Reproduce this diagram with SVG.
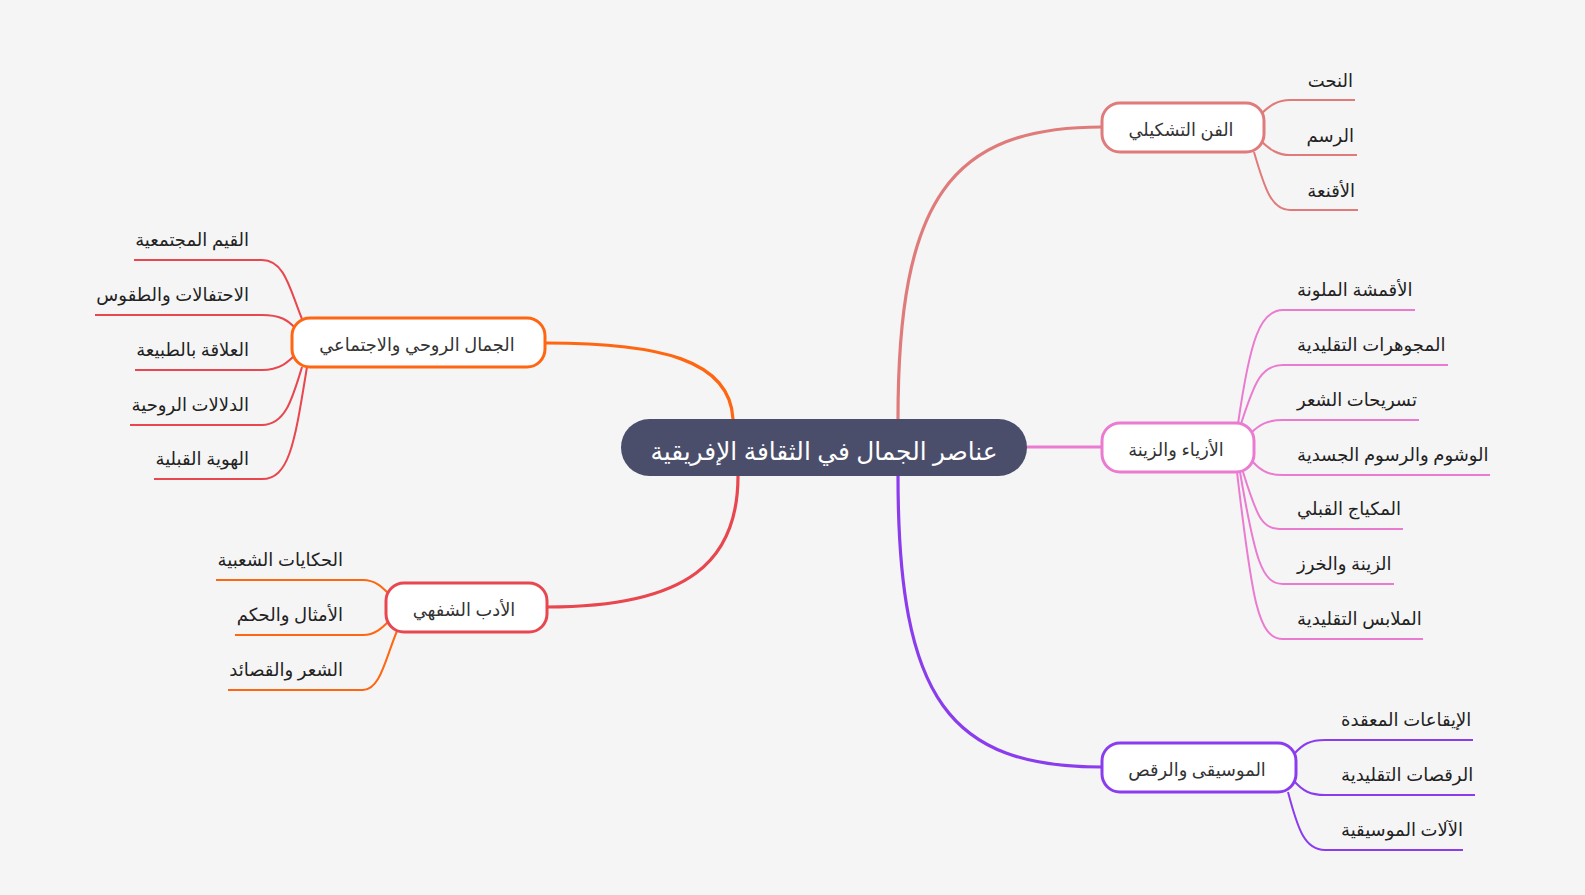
<svg xmlns="http://www.w3.org/2000/svg" width="1585" height="895" viewBox="0 0 1585 895">
<style>
text{font-family:"Noto Sans","DejaVu Sans",sans-serif;}
.leaf{font-size:18px;fill:#222;}
.nt{font-size:17.8px;fill:#333;text-anchor:middle;}
.ct{font-size:24.8px;fill:#fff;text-anchor:middle;}
.node{fill:#fff;stroke-width:3;}
.c{fill:none;stroke-width:3.2;}
.l{fill:none;stroke-width:2;}
.L{text-anchor:end;}
.R{text-anchor:start;}
</style>
<rect width="1585" height="895" fill="#f5f5f5"/>
<g id="connectors">
<path class="c" stroke="#e07b7b" d="M898,419 C898,200 950,127 1102,127"/>
<path class="c" stroke="#ea7bd0" d="M1027,447 L1102,447"/>
<path class="c" stroke="#8b3dee" d="M898,476 C898,700 950,767 1102,767"/>
<path class="c" stroke="#ff6611" d="M546,343 C660,343 730,360 733,419"/>
<path class="c" stroke="#e8474f" d="M738,476 C738,560 690,607 547,607"/>
<g stroke="#e07b7b">
<path class="l" d="M1260,115 C1270,105 1278,100 1290,100 L1355,100"/>
<path class="l" d="M1260,140 C1270,150 1278,155 1290,155 L1357,155"/>
<path class="l" d="M1254,152 C1265,190 1272,210 1290,210 L1358,210"/>
</g>
<g stroke="#ea7bd0">
<path class="l" d="M1238,424 C1250,340 1260,310 1283,310 L1415,310"/>
<path class="l" d="M1241,424 C1255,380 1262,365 1283,365 L1448,365"/>
<path class="l" d="M1251,433 C1260,424 1268,420 1283,420 L1419,420"/>
<path class="l" d="M1253,462 C1262,472 1270,475 1283,475 L1490,475"/>
<path class="l" d="M1243,472 C1258,520 1262,529 1283,529 L1403,529"/>
<path class="l" d="M1240,472 C1255,560 1262,584 1283,584 L1394,584"/>
<path class="l" d="M1237,472 C1252,600 1258,639 1283,639 L1423,639"/>
</g>
<g stroke="#8b3dee">
<path class="l" d="M1294,754 C1303,744 1310,740 1325,740 L1473,740"/>
<path class="l" d="M1294,781 C1303,791 1310,795 1325,795 L1475,795"/>
<path class="l" d="M1288,792 C1298,830 1305,850 1325,850 L1463,850"/>
</g>
<g stroke="#e8474f">
<path class="l" d="M134,260 L262,260 C285,260 290,290 302,319"/>
<path class="l" d="M95,315 L262,315 C280,315 288,320 295,328"/>
<path class="l" d="M135,370 L262,370 C280,370 288,362 295,355"/>
<path class="l" d="M130,425 L262,425 C285,425 292,400 302,367"/>
<path class="l" d="M154,479 L262,479 C290,479 295,440 307,367"/>
</g>
<g stroke="#ff6611">
<path class="l" d="M216,580 L363,580 C375,580 382,587 389,594"/>
<path class="l" d="M235,635 L363,635 C375,635 382,628 389,621"/>
<path class="l" d="M228,690 L363,690 C380,690 385,660 397,631"/>
</g>
</g>
<g id="center">
<rect x="621" y="419" width="406" height="57" rx="28.5" fill="#4b4e6b"/>
<text class="ct" x="824" y="460">عناصر الجمال في الثقافة الإفريقية</text>
</g>
<g id="n-fineart">
<rect class="node" x="1102" y="103" width="162" height="49" rx="18" stroke="#e07b7b"/>
<text class="nt" x="1181" y="136">الفن التشكيلي</text>
</g>
<g id="n-fashion">
<rect class="node" x="1102" y="423" width="152" height="49" rx="18" stroke="#ea7bd0"/>
<text class="nt" x="1176" y="456">الأزياء والزينة</text>
</g>
<g id="n-music">
<rect class="node" x="1102" y="743" width="194" height="49" rx="18" stroke="#8b3dee"/>
<text class="nt" x="1197" y="776">الموسيقى والرقص</text>
</g>
<g id="n-spiritual">
<rect class="node" x="292" y="318" width="253" height="49" rx="18" stroke="#ff6611"/>
<text class="nt" x="417" y="351">الجمال الروحي والاجتماعي</text>
</g>
<g id="n-oral">
<rect class="node" x="386" y="583" width="161" height="49" rx="18" stroke="#e8474f"/>
<text class="nt" x="464" y="616">الأدب الشفهي</text>
</g>
<g id="leaves-fineart">
<text class="leaf L" x="1353" y="87">النحت</text>
<text class="leaf L" x="1354" y="142">الرسم</text>
<text class="leaf L" x="1355" y="197">الأقنعة</text>
</g>
<g id="leaves-fashion">
<text class="leaf R" x="1297" y="296">الأقمشة الملونة</text>
<text class="leaf R" x="1297" y="351">المجوهرات التقليدية</text>
<text class="leaf R" x="1297" y="406">تسريحات الشعر</text>
<text class="leaf R" x="1297" y="461">الوشوم والرسوم الجسدية</text>
<text class="leaf R" x="1297" y="515">المكياج القبلي</text>
<text class="leaf R" x="1297" y="570">الزينة والخرز</text>
<text class="leaf R" x="1297" y="625">الملابس التقليدية</text>
</g>
<g id="leaves-music">
<text class="leaf R" x="1341" y="726">الإيقاعات المعقدة</text>
<text class="leaf R" x="1341" y="781">الرقصات التقليدية</text>
<text class="leaf R" x="1341" y="836">الآلات الموسيقية</text>
</g>
<g id="leaves-spiritual">
<text class="leaf L" x="249" y="246">القيم المجتمعية</text>
<text class="leaf L" x="249" y="301">الاحتفالات والطقوس</text>
<text class="leaf L" x="249" y="356">العلاقة بالطبيعة</text>
<text class="leaf L" x="249" y="411">الدلالات الروحية</text>
<text class="leaf L" x="249" y="465">الهوية القبلية</text>
</g>
<g id="leaves-oral">
<text class="leaf L" x="343" y="566">الحكايات الشعبية</text>
<text class="leaf L" x="343" y="621">الأمثال والحكم</text>
<text class="leaf L" x="343" y="676">الشعر والقصائد</text>
</g>
</svg>
